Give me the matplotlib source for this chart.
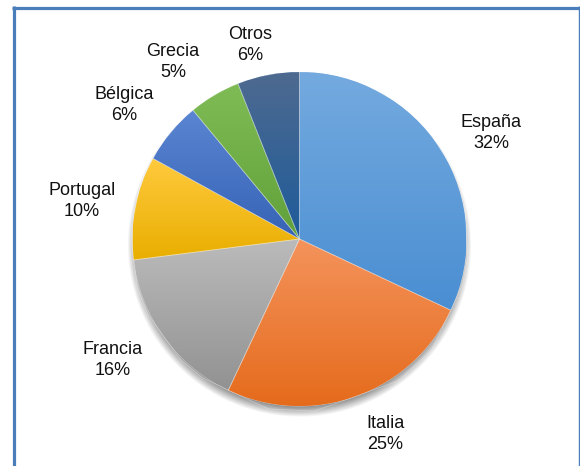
import numpy as np
import matplotlib
matplotlib.use("Agg")
import matplotlib.pyplot as plt
from matplotlib.colors import to_rgb, LinearSegmentedColormap
from matplotlib.lines import Line2D

labels = ["España", "Italia", "Francia", "Portugal", "Bélgica", "Grecia", "Otros"]
values = [32, 25, 16, 10, 6, 5, 6]
top_colors = ["#74AADF", "#F4935C", "#BBBBBB", "#FFCA3E", "#5A85D2", "#80BC55", "#4E6A90"]
bot_colors = ["#4A8ED2", "#E56B1C", "#929292", "#E9AE00", "#3763B6", "#60A03A", "#1E5B9A"]
label_pos = [(491, 133), (385, 434), (113, 360), (82, 201), (124, 105), (173, 62), (250, 45)]

W, H = 580, 466
fig = plt.figure(figsize=(W / 100, H / 100), dpi=100)
ax = fig.add_axes([0, 0, 1, 1])
ax.set_xlim(0, W)
ax.set_ylim(0, H)
ax.set_aspect("equal")
ax.axis("off")

cx, cy, r = 299.5, H - 239, 167

# soft shadow
yy, xx = np.mgrid[0:H, 0:W]
d = np.hypot(xx + 0.5 - cx, (H - yy - 0.5) - (cy - 6))
alpha = np.clip((r + 5 - d) / 10, 0, 1) * 0.6
shadow = np.zeros((H, W, 4))
shadow[..., :3] = 0.3
shadow[..., 3] = alpha
ax.imshow(shadow, extent=(0, W, 0, H), origin="upper", zorder=0.5, interpolation="bilinear")

wedges, _ = ax.pie(values, startangle=90, counterclock=False, center=(cx, cy), radius=r,
                   colors=bot_colors, wedgeprops=dict(linewidth=0.6, edgecolor="#FFFFFF80"))
ax.set_xlim(0, W)
ax.set_ylim(0, H)

for w, tc, bc in zip(wedges, top_colors, bot_colors):
    w.set_zorder(1)
    bb = w.get_path().get_extents()
    cmap = LinearSegmentedColormap.from_list("g", [to_rgb(tc), to_rgb(bc)])
    grad = np.linspace(0, 1, 256).reshape(-1, 1)
    im = ax.imshow(grad, cmap=cmap, extent=(bb.x0, bb.x1, bb.y0, bb.y1), origin="upper",
                   aspect="auto", zorder=1.5, interpolation="bilinear")
    im.set_clip_path(w)
    edge = plt.Polygon(w.get_path().vertices, closed=True, fill=False,
                       edgecolor=(1, 1, 1, 0.3), linewidth=0.6, zorder=1.6)
    ax.add_patch(edge)

ax.set_xlim(0, W)
ax.set_ylim(0, H)

for lab, v, (x, y) in zip(labels, values, label_pos):
    ax.text(x, H - y, f"{lab}\n{v}%", ha="center", va="center", fontsize=13,
            family="Liberation Sans", color="#111111", linespacing=1.25, zorder=3)

frame_c = "#4A7EBB"
fig.add_artist(Line2D([13.5 / W, 13.5 / W], [0, 1 - 6 / H], transform=fig.transFigure,
                      color=frame_c, linewidth=2.3, solid_capstyle="butt"))
fig.add_artist(Line2D([12 / W, 580 / W], [1 - 7.5 / H, 1 - 7.5 / H], transform=fig.transFigure,
                      color=frame_c, linewidth=2.3, solid_capstyle="butt"))
fig.add_artist(Line2D([578.7 / W, 578.7 / W], [0, 1 - 6 / H], transform=fig.transFigure,
                      color=frame_c, linewidth=1.0, solid_capstyle="butt"))

fig.savefig("out.png", dpi=100, facecolor="white")
